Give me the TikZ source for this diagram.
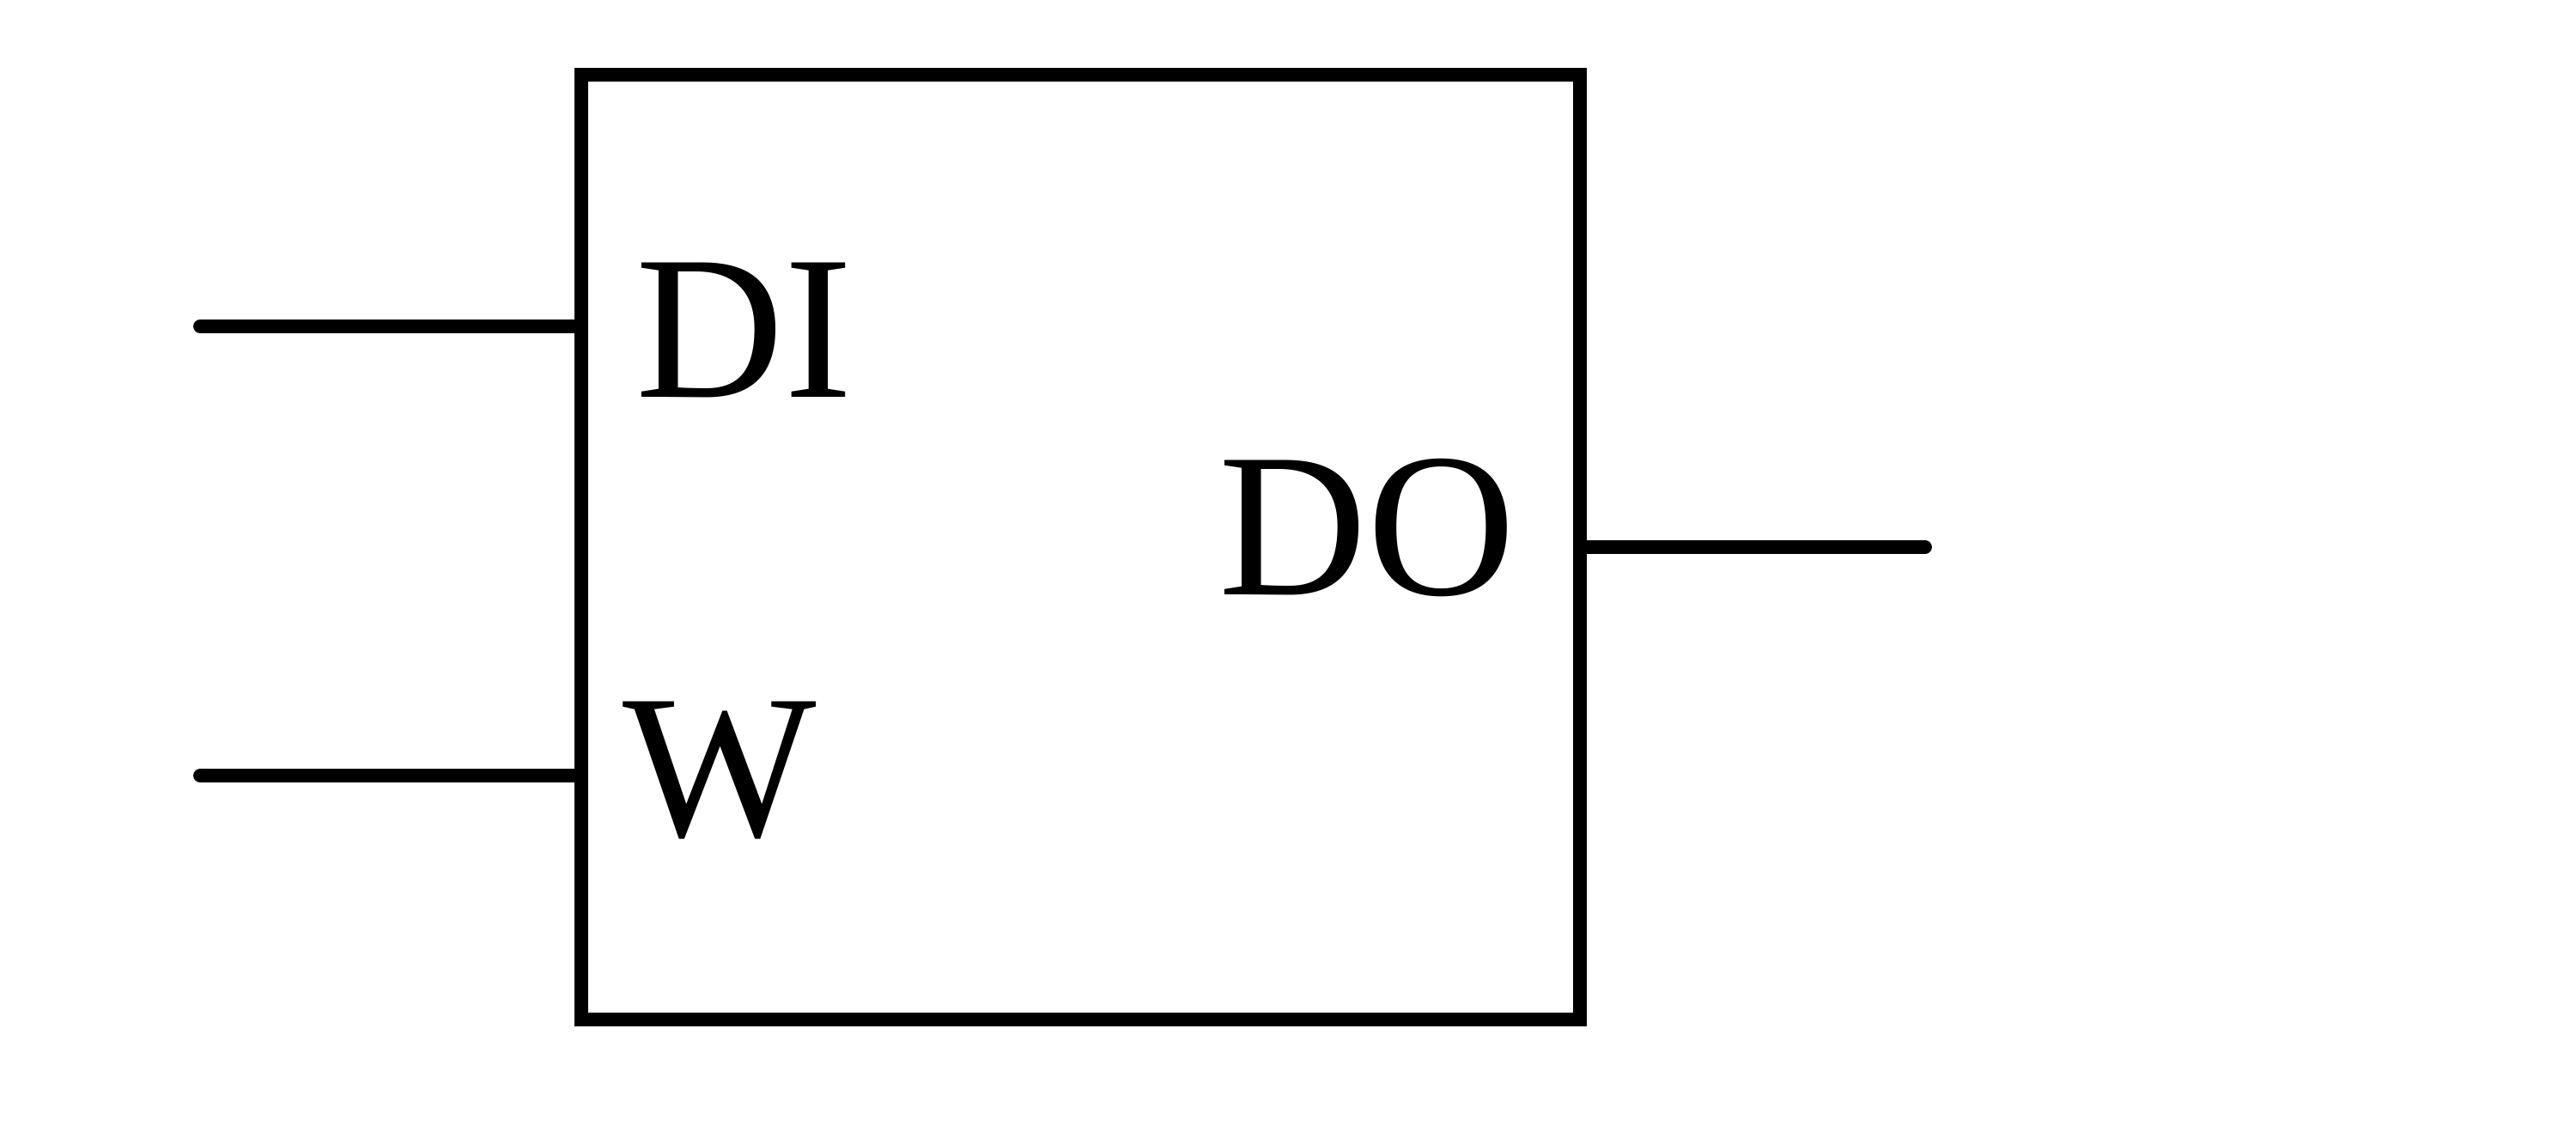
\documentclass[tikz,border=0pt]{standalone}
\usepackage{fontspec}
\setmainfont{Liberation Serif}
\usepackage{tikz}
\usetikzlibrary{arrows, positioning}

\begin{document}
\begin{tikzpicture}[x=10mm, y=10mm,
		wire/.style={line width=4.5pt, line cap=round},
		lbl/.style={font=\fontsize{68}{80}\selectfont, inner sep=0pt, anchor=base west}]
		% Bildbereich
		\useasboundingbox (0,0) rectangle (30,13.1);
		% Baustein zeichnen
		\node[draw, line width=4.5pt, minimum width=11.63cm, minimum height=11cm, inner sep=0pt] (blk) at (12.585,6.73) {};
		% Anschluesse
		\coordinate (di) at (2.33,9.30);
		\coordinate (w) at (2.33,4.07);
		\coordinate (do) at (22.42,6.73);
		\draw[wire] (di) -- (di -| blk.west);
		\draw[wire] (w) -- (w -| blk.west);
		\draw[wire] (do -| blk.east) -- (do);
		% Beschriftung
		\node[lbl] (dilbl) at (7.40,8.47) {DI};
		\node[lbl] (wlbl) at (7.25,3.37) {W};
		\node[lbl] (dolbl) at (14.19,6.17) {DO};
	\end{tikzpicture}
\end{document}
